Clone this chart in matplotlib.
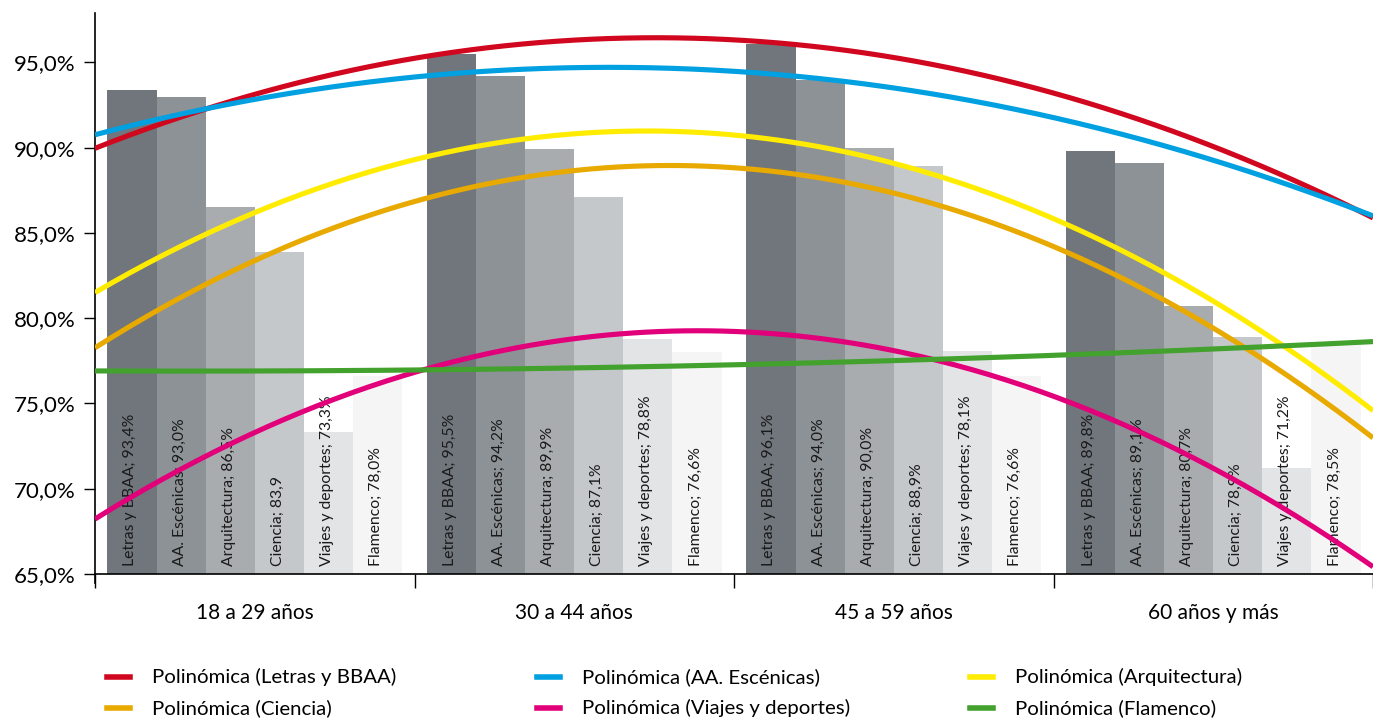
import numpy as np
import matplotlib
matplotlib.use("Agg")
import matplotlib.pyplot as plt
from matplotlib.lines import Line2D

plt.rcParams['font.family'] = ['Lato', 'DejaVu Sans']

groups = ["18 a 29 años", "30 a 44 años", "45 a 59 años", "60 años y más"]
series = ["Letras y BBAA", "AA. Escénicas", "Arquitectura", "Ciencia",
          "Viajes y deportes", "Flamenco"]

letras = [93.4, 95.5, 96.1, 89.8]
escenicas = [93.0, 94.2, 94.0, 89.1]
arquitectura = [86.5, 89.9, 90.0, 80.7]
ciencia = [83.9, 87.1, 88.9, 78.9]
viajes = [73.3, 78.8, 78.1, 71.2]
flamenco = [76.6, 78.0, 76.6, 78.5]

# label texts as printed on the original chart
labels_letras = ["93,4%", "95,5%", "96,1%", "89,8%"]
labels_escenicas = ["93,0%", "94,2%", "94,0%", "89,1%"]
labels_arquitectura = ["86,5%", "89,9%", "90,0%", "80,7%"]
labels_ciencia = ["83,9", "87,1%", "88,9%", "78,9%"]
labels_viajes = ["73,3%", "78,8%", "78,1%", "71,2%"]
labels_flamenco = ["78,0%", "76,6%", "76,6%", "78,5%"]

values = [letras, escenicas, arquitectura, ciencia, viajes, flamenco]
labels = [labels_letras, labels_escenicas, labels_arquitectura, labels_ciencia,
          labels_viajes, labels_flamenco]

bar_colors = ["#70767c", "#8d9296", "#a9acaf", "#c5c8cb", "#e3e4e5", "#f5f5f5"]
trend_colors = ["#d0071e", "#00a0e1", "#ffec00", "#e8a900", "#e2007a", "#43a12e"]

fig = plt.figure(figsize=(13.73, 7.2), dpi=100)
ax = fig.add_axes([95/1373, 1-574/720, 1-95/1373, (574-13)/720])

x = np.arange(1, 5)
bw = 0.1537
start = -3 * bw
for i, (vals, labs) in enumerate(zip(values, labels)):
    xs = x + start + i * bw + bw / 2
    ax.bar(xs, np.array(vals) - 65, bottom=65, width=bw, color=bar_colors[i],
           zorder=1, linewidth=0)
    for xx, lab in zip(xs, labs):
        ax.text(xx - 0.005, 65.45, f"{series[i]}; {lab}", rotation=90,
                ha='center', va='bottom', fontsize=11.3, color='#1a1a1a', zorder=2)

xf = np.linspace(0.5, 4.5, 300)
for i, vals in enumerate(values):
    p = np.polyfit(x, vals, 2)
    ax.plot(xf, np.polyval(p, xf), color=trend_colors[i], lw=3.7,
            solid_capstyle='butt', zorder=3)

ax.set_xlim(0.5, 4.5)
ax.set_ylim(65, 97.9)
ax.set_yticks(np.arange(65, 96, 5))
ax.set_yticklabels([f"{v:.1f}%".replace('.', ',') for v in np.arange(65, 96, 5)],
                   fontsize=16)
ax.tick_params(axis='y', length=8, width=1, pad=6, colors='black')
ax.set_xticks([0.5, 1.5, 2.5, 3.5, 4.5])
ax.set_xticklabels([])
ax.set_xticks(x, minor=True)
ax.set_xticklabels(groups, minor=True, fontsize=15)
ax.tick_params(axis='x', which='major', length=10, width=1, direction='out')
ax.tick_params(axis='x', which='minor', length=0, pad=21)
for s in ['top', 'right']:
    ax.spines[s].set_visible(False)
for s in ['left', 'bottom']:
    ax.spines[s].set_linewidth(1.2)
    ax.spines[s].set_color('black')
ax.spines['left'].set_bounds(64.45, 97.9)

# legend (row-major layout as in the original)
col_x = [107/1373, 537/1373, 970/1373]
row_y = [1-677/720, 1-708/720]
for k in range(6):
    r, c = divmod(k, 3)
    fig.add_artist(Line2D([col_x[c], col_x[c] + 23/1373], [row_y[r], row_y[r]],
                          transform=fig.transFigure, color=trend_colors[k], lw=4))
    fig.text(col_x[c] + 45/1373, row_y[r], f"Polinómica ({series[k]})",
             va='center', ha='left', fontsize=14.7)

fig.savefig("out.png", dpi=100)
